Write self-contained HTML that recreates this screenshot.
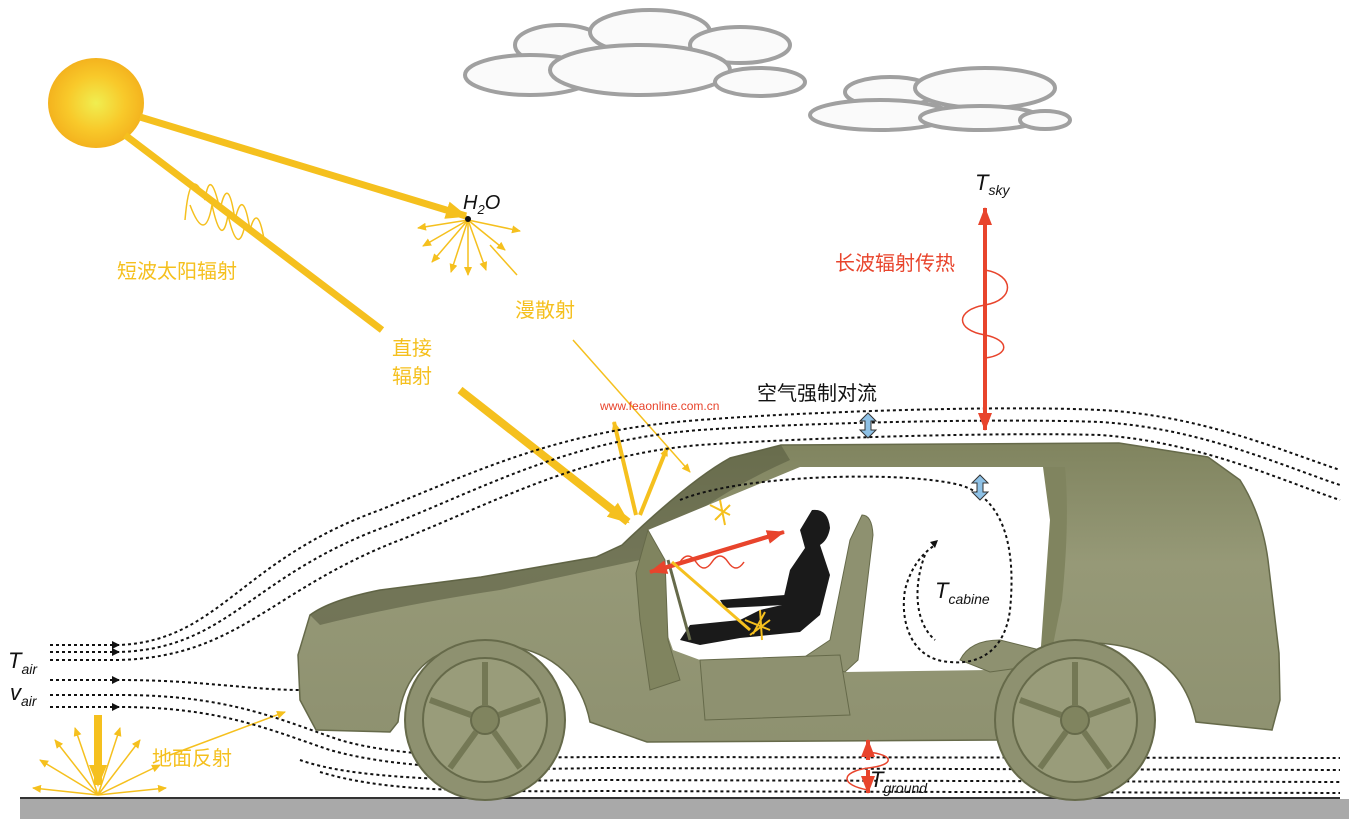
<!DOCTYPE html>
<html><head><meta charset="utf-8"><style>
html,body{margin:0;padding:0;background:#fff;width:1349px;height:819px;overflow:hidden}
text{font-family:"Liberation Sans","Noto Sans CJK SC",sans-serif}
</style></head><body>
<svg width="1349" height="819" viewBox="0 0 1349 819" xmlns="http://www.w3.org/2000/svg">
<defs>
<radialGradient id="sun" cx="50%" cy="50%" r="50%"><stop offset="0" stop-color="#f0ee50"/><stop offset="0.6" stop-color="#f8c92a"/><stop offset="1" stop-color="#f4b31e"/></radialGradient>
<linearGradient id="car" x1="0" y1="0" x2="0" y2="1"><stop offset="0" stop-color="#80845f"/><stop offset="0.4" stop-color="#969977"/><stop offset="1" stop-color="#8e9170"/></linearGradient>
<marker id="ayb" markerWidth="22" markerHeight="18" refX="20" refY="9" orient="auto" markerUnits="userSpaceOnUse"><path d="M0,0 L22,9 L0,18z" fill="#f5c01e"/></marker>
<marker id="ay" markerWidth="9" markerHeight="8" refX="8" refY="4" orient="auto" markerUnits="userSpaceOnUse"><path d="M0,0 L9,4 L0,8z" fill="#f5c01e"/></marker>
<marker id="ar" markerWidth="18" markerHeight="14" refX="17" refY="7" orient="auto" markerUnits="userSpaceOnUse"><path d="M0,0 L18,7 L0,14z" fill="#e8442c"/></marker>
</defs>
<rect x="20" y="799" width="1329" height="20" fill="#a9a9a9"/>
<line x1="20" y1="798" x2="1340" y2="798" stroke="#333" stroke-width="2"/>
<g fill="#fafafa" stroke="#a0a0a0" stroke-width="4">
<ellipse cx="560" cy="45" rx="45" ry="20"/><ellipse cx="650" cy="32" rx="60" ry="22"/><ellipse cx="740" cy="45" rx="50" ry="18"/>
<ellipse cx="530" cy="75" rx="65" ry="20"/><ellipse cx="640" cy="70" rx="90" ry="25"/><ellipse cx="760" cy="82" rx="45" ry="14"/>
<ellipse cx="890" cy="92" rx="45" ry="15"/><ellipse cx="985" cy="88" rx="70" ry="20"/><ellipse cx="880" cy="115" rx="70" ry="15"/><ellipse cx="980" cy="118" rx="60" ry="12"/><ellipse cx="1045" cy="120" rx="25" ry="9"/>
</g>
<ellipse cx="96" cy="103" rx="48" ry="45" fill="url(#sun)"/>
<g stroke="#f5c01e" fill="none">
<line x1="140" y1="117" x2="466" y2="216" stroke-width="7" marker-end="url(#ayb)"/>
<line x1="125" y1="135" x2="382" y2="330" stroke-width="7"/>
<line x1="460" y1="390" x2="628" y2="522" stroke-width="8" marker-end="url(#ayb)"/>
<path d="M185,220 Q190,160 205,200 Q210,165 220,210 Q228,172 235,220 Q243,185 250,230 Q258,200 265,245" stroke-width="1.5"/>
<path d="M190,205 Q205,245 212,205 Q222,250 228,215 Q238,258 245,225" stroke-width="1.5"/>
<line x1="573" y1="340" x2="690" y2="472" stroke-width="1.5" marker-end="url(#ay)"/>
<line x1="636" y1="515" x2="614" y2="422" stroke-width="4" marker-end="url(#ay)"/>
<line x1="640" y1="515" x2="667" y2="448" stroke-width="4" marker-end="url(#ay)"/>
<line x1="98" y1="715" x2="98" y2="785" stroke-width="8" marker-end="url(#ayb)"/>
<line x1="170" y1="755" x2="285" y2="712" stroke-width="1.5" marker-end="url(#ay)"/>
</g>
<g stroke="#f5c01e" stroke-width="1.5" marker-end="url(#ay)">
<line x1="468" y1="220" x2="418" y2="228"/><line x1="468" y1="220" x2="423" y2="246"/><line x1="468" y1="220" x2="432" y2="262"/>
<line x1="468" y1="220" x2="451" y2="272"/><line x1="468" y1="220" x2="468" y2="275"/><line x1="468" y1="220" x2="486" y2="270"/>
<line x1="468" y1="220" x2="505" y2="250"/><line x1="468" y1="220" x2="520" y2="231"/>
</g>
<line x1="490" y1="245" x2="517" y2="275" stroke="#f5c01e" stroke-width="1.5"/>
<circle cx="468" cy="219" r="3" fill="#111"/>
<g stroke="#f5c01e" stroke-width="1.5" marker-end="url(#ay)">
<line x1="98" y1="795" x2="33" y2="788"/><line x1="98" y1="795" x2="40" y2="760"/><line x1="98" y1="795" x2="55" y2="740"/>
<line x1="98" y1="795" x2="75" y2="728"/><line x1="98" y1="795" x2="120" y2="728"/><line x1="98" y1="795" x2="140" y2="740"/>
<line x1="98" y1="795" x2="160" y2="765"/><line x1="98" y1="795" x2="166" y2="788"/>
</g>
<g stroke="#111" stroke-width="2" stroke-dasharray="3,3" fill="none">
<path d="M50,645 L120,645 C220,640 240,560 380,510 C480,470 560,430 700,420 C800,412 1000,405 1100,410 C1200,415 1280,450 1340,470"/>
<path d="M50,652 L120,652 C230,648 250,575 390,525 C490,485 570,440 700,430 C800,423 1000,418 1100,422 C1200,428 1280,465 1340,485"/>
<path d="M50,660 L120,660 C240,656 270,590 400,540 C500,500 580,455 700,445 C800,438 1000,432 1100,435 C1200,442 1280,480 1340,500"/>
<path d="M50,680 L120,680 C200,680 250,690 300,690"/>
<path d="M50,707 L120,707 C220,707 270,730 330,750 C400,770 500,770 600,768 L1340,770"/>
<path d="M50,695 L120,695 C230,695 280,720 340,740 C400,758 500,758 600,757 L1340,758"/>
<path d="M300,760 C350,778 450,782 600,780 L1340,782"/>
<path d="M320,772 C380,790 450,792 600,791 L1340,793"/>
</g>
<g><path d="M112,641 L120,645 L112,649z" fill="#111"/><path d="M112,648 L120,652 L112,656z" fill="#111"/><path d="M112,676 L120,680 L112,684z" fill="#111"/><path d="M112,703 L120,707 L112,711z" fill="#111"/></g>
<path d="M316,730 L300,700 L298,655 L310,615 Q330,600 380,590 L481,577 L596,557 L622,545 Q690,480 730,458 L781,445 L1119,443 L1208,457 L1240,480 Q1262,515 1268,560 L1279,653 L1280,700 L1272,730 L1196,722 Q1180,645 1093,643 Q1010,648 1004,722 L1000,740 L647,742 L590,722 Q575,645 481,643 Q405,650 398,722 L390,732 Z" fill="url(#car)" stroke="#666a4a" stroke-width="1.5"/>
<path d="M310,615 Q330,600 380,590 L481,577 L596,557 L622,545 Q690,480 730,458 L781,445 L790,460 Q700,500 640,560 L500,590 Q400,605 320,625 Z" fill="#55593e" opacity="0.55"/>
<path d="M800,467 L1043,467 Q1055,480 1056,520 L1045,653 L992,660 L990,670 L845,672 L840,655 L700,660 L673,650 L655,600 L636,573 L648,530 Z" fill="#fff"/>
<path d="M1043,467 L1065,467 Q1070,520 1062,600 L1050,660 L1040,660 L1050,520 Z" fill="#80845f"/>
<path d="M960,660 Q970,640 1000,640 L1040,650 L1040,665 L990,672 Z" fill="#8e9170" stroke="#666a4a"/>
<path d="M862,515 Q872,515 873,535 L858,660 L845,672 L800,660 L830,640 L850,540 Z" fill="#8e9170" stroke="#666a4a"/>
<path d="M812,510 Q828,508 830,528 Q828,540 820,545 L830,575 L820,615 L800,632 L740,638 L700,645 L680,640 L690,625 L740,620 L760,610 L782,605 L790,570 L805,548 L800,530 Z" fill="#1a1a1a"/>
<path d="M720,600 L785,595 L784,605 L725,608Z" fill="#1a1a1a"/>
<path d="M648,530 L665,560 L668,640 L680,680 L650,690 L640,620 L636,573 Z" fill="#80845f" stroke="#666a4a"/>
<line x1="668" y1="560" x2="690" y2="640" stroke="#666a4a" stroke-width="3"/>
<path d="M700,660 L840,655 L850,715 L705,720 Z" fill="#8e9170" stroke="#666a4a"/>
<g stroke="#111" stroke-width="2" stroke-dasharray="3,3" fill="none">
<path d="M680,500 C740,475 900,470 960,485 C1010,500 1015,560 1010,610 C1005,650 980,665 950,662 C910,660 900,620 905,590 C910,570 920,555 935,545"/>
<path d="M925,555 C915,580 912,620 935,640"/>
</g>
<path d="M930,542 L938,540 L935,548z" fill="#111"/>
<g stroke="#666a4a" stroke-width="2">
<circle cx="485" cy="720" r="80" fill="#8e9170"/><circle cx="485" cy="720" r="62" fill="#999c7a"/><circle cx="485" cy="720" r="14" fill="#80845f"/>
<circle cx="1075" cy="720" r="80" fill="#8e9170"/><circle cx="1075" cy="720" r="62" fill="#999c7a"/><circle cx="1075" cy="720" r="14" fill="#80845f"/>
</g>
<g stroke="#747855" stroke-width="6">
<line x1="485" y1="706" x2="485" y2="662"/><line x1="499" y1="715" x2="540" y2="700"/><line x1="494" y1="732" x2="520" y2="768"/><line x1="476" y1="732" x2="450" y2="768"/><line x1="471" y1="715" x2="430" y2="700"/>
<line x1="1075" y1="706" x2="1075" y2="662"/><line x1="1089" y1="715" x2="1130" y2="700"/><line x1="1084" y1="732" x2="1110" y2="768"/><line x1="1066" y1="732" x2="1040" y2="768"/><line x1="1061" y1="715" x2="1020" y2="700"/>
</g>
<g stroke="#e8442c" fill="none">
<line x1="985" y1="420" x2="985" y2="208" stroke-width="4" marker-end="url(#ar)"/>
<line x1="985" y1="230" x2="985" y2="430" stroke-width="4" marker-end="url(#ar)"/>
<path d="M985,270 C1015,275 1015,300 985,305 C955,310 955,330 985,335 C1010,340 1010,355 985,358" stroke-width="1.5"/>
<line x1="665" y1="568" x2="784" y2="532" stroke-width="4" marker-end="url(#ar)"/>
<line x1="770" y1="536" x2="650" y2="572" stroke-width="4" marker-end="url(#ar)"/>
<path d="M680,562 q8,-12 16,0 q8,12 16,0 q8,-12 16,0 q8,12 16,0" stroke-width="1.5"/>
<line x1="868" y1="760" x2="868" y2="740" stroke-width="4" marker-end="url(#ar)"/>
<line x1="868" y1="770" x2="868" y2="793" stroke-width="4" marker-end="url(#ar)"/>
<path d="M868,752 C895,755 895,765 868,768 C840,772 840,785 868,790" stroke-width="1.5"/>
</g>
<g fill="#8ec1e6" stroke="#333" stroke-width="1">
<path d="M868,413 L876,421 L871,421 L871,430 L876,430 L868,438 L860,430 L865,430 L865,421 L860,421Z"/>
<path d="M980,475 L988,483 L983,483 L983,492 L988,492 L980,500 L972,492 L977,492 L977,483 L972,483Z"/>
</g>
<g stroke="#f5c01e" stroke-width="2"><path d="M710,505 l20,10 M715,520 l15,-15 M720,500 l5,25"/><path d="M745,620 l25,10 M750,635 l20,-15 M760,610 l2,30 M765,612 l-12,22"/></g>
<line x1="672" y1="562" x2="750" y2="630" stroke="#f5c01e" stroke-width="3"/>
<g fill="#f5c01e" font-size="20">
<text x="117" y="278">短波太阳辐射</text>
<text x="392" y="355">直接</text><text x="392" y="383">辐射</text>
<text x="515" y="317">漫散射</text>
<text x="152" y="765">地面反射</text>
</g>
<text x="463" y="209" font-size="20" font-style="italic" fill="#111">H<tspan font-size="13" dy="5">2</tspan><tspan dy="-5">O</tspan></text>
<text x="975" y="190" font-size="22" font-style="italic" fill="#111">T<tspan font-size="14" dy="5">sky</tspan></text>
<text x="835" y="270" font-size="20" fill="#e8442c">长波辐射传热</text>
<text x="757" y="400" font-size="20" fill="#111">空气强制对流</text>
<text x="600" y="410" font-size="12" fill="#e8442c">www.feaonline.com.cn</text>
<text x="935" y="598" font-size="22" font-style="italic" fill="#111">T<tspan font-size="14" dy="6">cabine</tspan></text>
<text x="870" y="787" font-size="22" font-style="italic" fill="#111">T<tspan font-size="14" dy="6">ground</tspan></text>
<text x="8" y="668" font-size="22" font-style="italic" fill="#111">T<tspan font-size="14" dy="6">air</tspan></text>
<text x="10" y="700" font-size="22" font-style="italic" fill="#111">v<tspan font-size="14" dy="6">air</tspan></text>
</svg>
</body></html>
